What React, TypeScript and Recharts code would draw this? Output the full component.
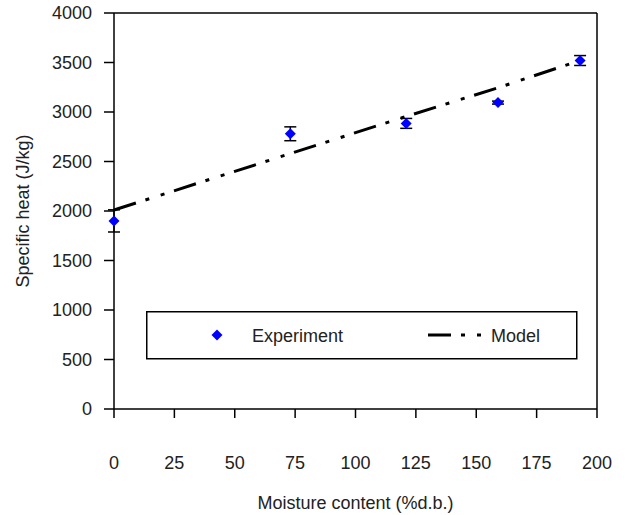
import React from "react";
import {
  ComposedChart,
  Scatter,
  Line,
  ErrorBar,
  XAxis,
  YAxis,
  ReferenceLine,
} from "recharts";

const moisture = [0, 73, 121, 159, 193];
const experiment = [1900, 2780, 2885, 3095, 3520];
const experimentErr = [112, 70, 50, 15, 50];
const model = [2010, 2580, 2955, 3245, 3520];

const xTicks = [0, 25, 50, 75, 100, 125, 150, 175, 200];
const yTicks = [0, 500, 1000, 1500, 2000, 2500, 3000, 3500, 4000];

const rows = moisture.map((x, i) => ({
  x,
  exp: experiment[i],
  err: experimentErr[i],
  model: model[i],
}));

const FONT = "'Liberation Sans', Arial, sans-serif";
const DASH = "23 10 4 12 4 10";

// excel style blue diamond
function Diamond(props: any) {
  const { cx, cy } = props;
  if (cx == null || cy == null) return null;
  const r = 5.5;
  return (
    <polygon
      points={`${cx},${cy - r} ${cx + r},${cy} ${cx},${cy + r} ${cx - r},${cy}`}
      fill="#0000ff"
    />
  );
}

// legend box drawn on top of the plot, like the original
function LegendBox() {
  return (
    <svg width={432} height={49} style={{ position: "absolute", left: 146, top: 311 }}>
      <rect x={0.75} y={0.75} width={430} height={47} fill="#fff" stroke="#000" strokeWidth={1.5} />
      <Diamond cx={71} cy={24} />
      <text x={106} y={31} fontFamily={FONT} fontSize={18} fill="#222">
        Experiment
      </text>
      <line x1={282} y1={24} x2={337} y2={24} stroke="#000" strokeWidth={3} strokeDasharray={DASH} />
      <text x={345} y={31} fontFamily={FONT} fontSize={18} fill="#222">
        Model
      </text>
    </svg>
  );
}

export default function App() {
  return (
    <div style={{ position: "relative", width: 625, height: 515, background: "#fff" }}>
      <style>{`body{margin:0}`}</style>
      <ComposedChart
        width={625}
        height={515}
        data={rows}
        margin={{ top: 13, right: 28, left: 0, bottom: 0 }}
      >
        <XAxis
          dataKey="x"
          type="number"
          domain={[0, 200]}
          ticks={xTicks}
          interval={0}
          height={106}
          tickSize={9}
          tickMargin={38}
          stroke="#000"
          strokeWidth={1.5}
          tick={{ fill: "#222", fontSize: 18, fontFamily: FONT }}
          label={{
            value: "Moisture content (%d.b.)",
            position: "insideBottom",
            offset: 6,
            fill: "#222",
            fontSize: 18,
            fontFamily: FONT,
          }}
        />
        <YAxis
          type="number"
          domain={[0, 4000]}
          ticks={yTicks}
          interval={0}
          width={114}
          tickSize={10}
          tickMargin={12}
          stroke="#000"
          strokeWidth={1.5}
          tick={{ fill: "#222", fontSize: 18, fontFamily: FONT }}
          label={{
            value: "Specific heat (J/kg)",
            angle: -90,
            position: "insideLeft",
            offset: 23,
            fill: "#222",
            fontSize: 18,
            fontFamily: FONT,
            style: { textAnchor: "middle" },
          }}
        />
        <ReferenceLine y={4000} stroke="#000" strokeWidth={1.5} />
        <ReferenceLine x={200} stroke="#000" strokeWidth={1.5} />
        <Line
          dataKey="model"
          type="linear"
          stroke="#000"
          strokeWidth={3}
          strokeDasharray={DASH}
          dot={false}
          isAnimationActive={false}
        />
        <Scatter dataKey="exp" fill="#0000ff" shape={<Diamond />} isAnimationActive={false}>
          <ErrorBar dataKey="err" direction="y" width={6} stroke="#000" strokeWidth={1.5} />
        </Scatter>
      </ComposedChart>
      <LegendBox />
    </div>
  );
}
